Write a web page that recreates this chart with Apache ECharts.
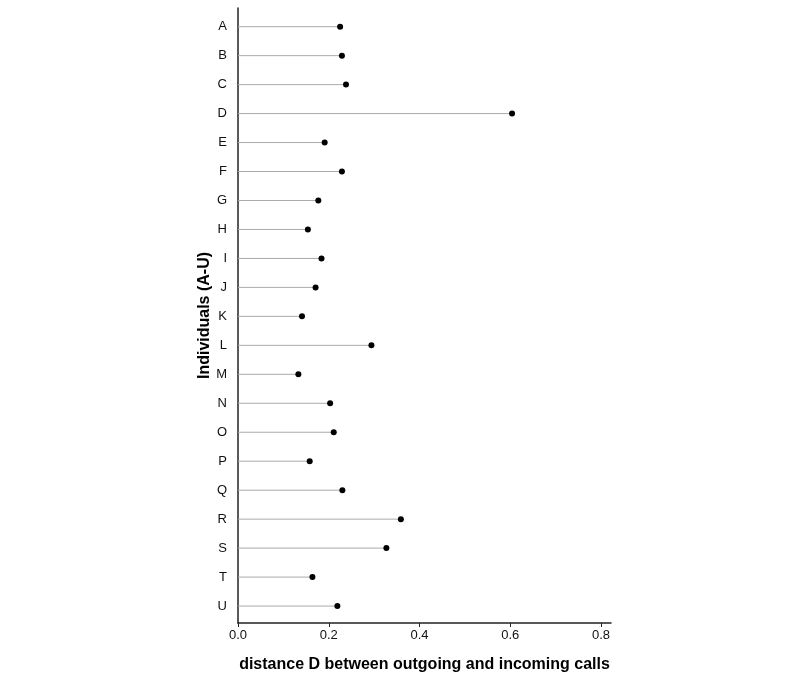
<!DOCTYPE html>
<html>
<head>
<meta charset="utf-8">
<script src="https://cdn.jsdelivr.net/npm/echarts@6/dist/echarts.min.js"></script>
<style>html,body{margin:0;padding:0;background:#fff}#c{width:800px;height:683px}</style>
</head>
<body>
<div id="c"></div>
<script>
var categories = ['A','B','C','D','E','F','G','H','I','J','K','L','M','N','O','P','Q','R','S','T','U'];
var values = [0.225,0.229,0.238,0.604,0.191,0.229,0.177,0.154,0.184,0.171,0.141,0.294,0.133,0.203,0.211,0.158,0.230,0.359,0.327,0.164,0.219];
var xTicks = [0, 0.2, 0.4, 0.6, 0.8];

var pts = values.map(function(v, i){ return [v, i]; });
var font = 'Liberation Sans, Arial, Helvetica, sans-serif';

var chart = echarts.init(document.getElementById('c'));
chart.setOption({
  animation: false,
  backgroundColor: '#fff',
  grid: { left: 238, right: 189, top: 8, bottom: 60, containLabel: false },
  xAxis: {
    type: 'value', min: 0, max: 0.822,
    name: 'distance D between outgoing and incoming calls',
    nameLocation: 'middle', nameGap: 34,
    nameTextStyle: { fontFamily: font, fontWeight: 'bold', fontSize: 16, color: '#000' },
    axisLine: { show: true, onZero: false, lineStyle: { color: '#222', width: 1.5 } },
    axisTick: { show: true, length: 4, customValues: xTicks, lineStyle: { color: '#222' } },
    axisLabel: { customValues: xTicks, fontFamily: font, fontSize: 13, color: '#111', margin: 6,
      formatter: function(v){ return v.toFixed(1); } },
    splitLine: { show: false }
  },
  yAxis: {
    type: 'value', inverse: true, min: -0.645, max: 20.585,
    name: 'Individuals (A-U)',
    nameLocation: 'middle', nameGap: 25,
    nameTextStyle: { fontFamily: font, fontWeight: 'bold', fontSize: 16, color: '#000' },
    axisLine: { show: true, onZero: false, lineStyle: { color: '#222', width: 1.5 } },
    axisTick: { show: false },
    axisLabel: { customValues: categories.map(function(c, i){ return i; }), fontFamily: font, fontSize: 13, color: '#111', margin: 11,
      formatter: function(v){ return categories[Math.round(v)]; } },
    splitLine: { show: false }
  },
  series: [
    {
      type: 'custom',
      data: pts,
      renderItem: function(params, api){
        var p0 = api.coord([0, api.value(1)]);
        var p1 = api.coord([api.value(0), api.value(1)]);
        return { type: 'line', shape: { x1: p0[0], y1: p0[1], x2: p1[0], y2: p1[1] },
          style: { stroke: '#aaa', lineWidth: 1 } };
      },
      encode: { x: 0, y: 1 },
      z: 1
    },
    {
      type: 'scatter',
      data: pts,
      symbol: 'circle', symbolSize: 6,
      itemStyle: { color: '#000', opacity: 1 },
      z: 2
    }
  ]
});
</script>
</body>
</html>
